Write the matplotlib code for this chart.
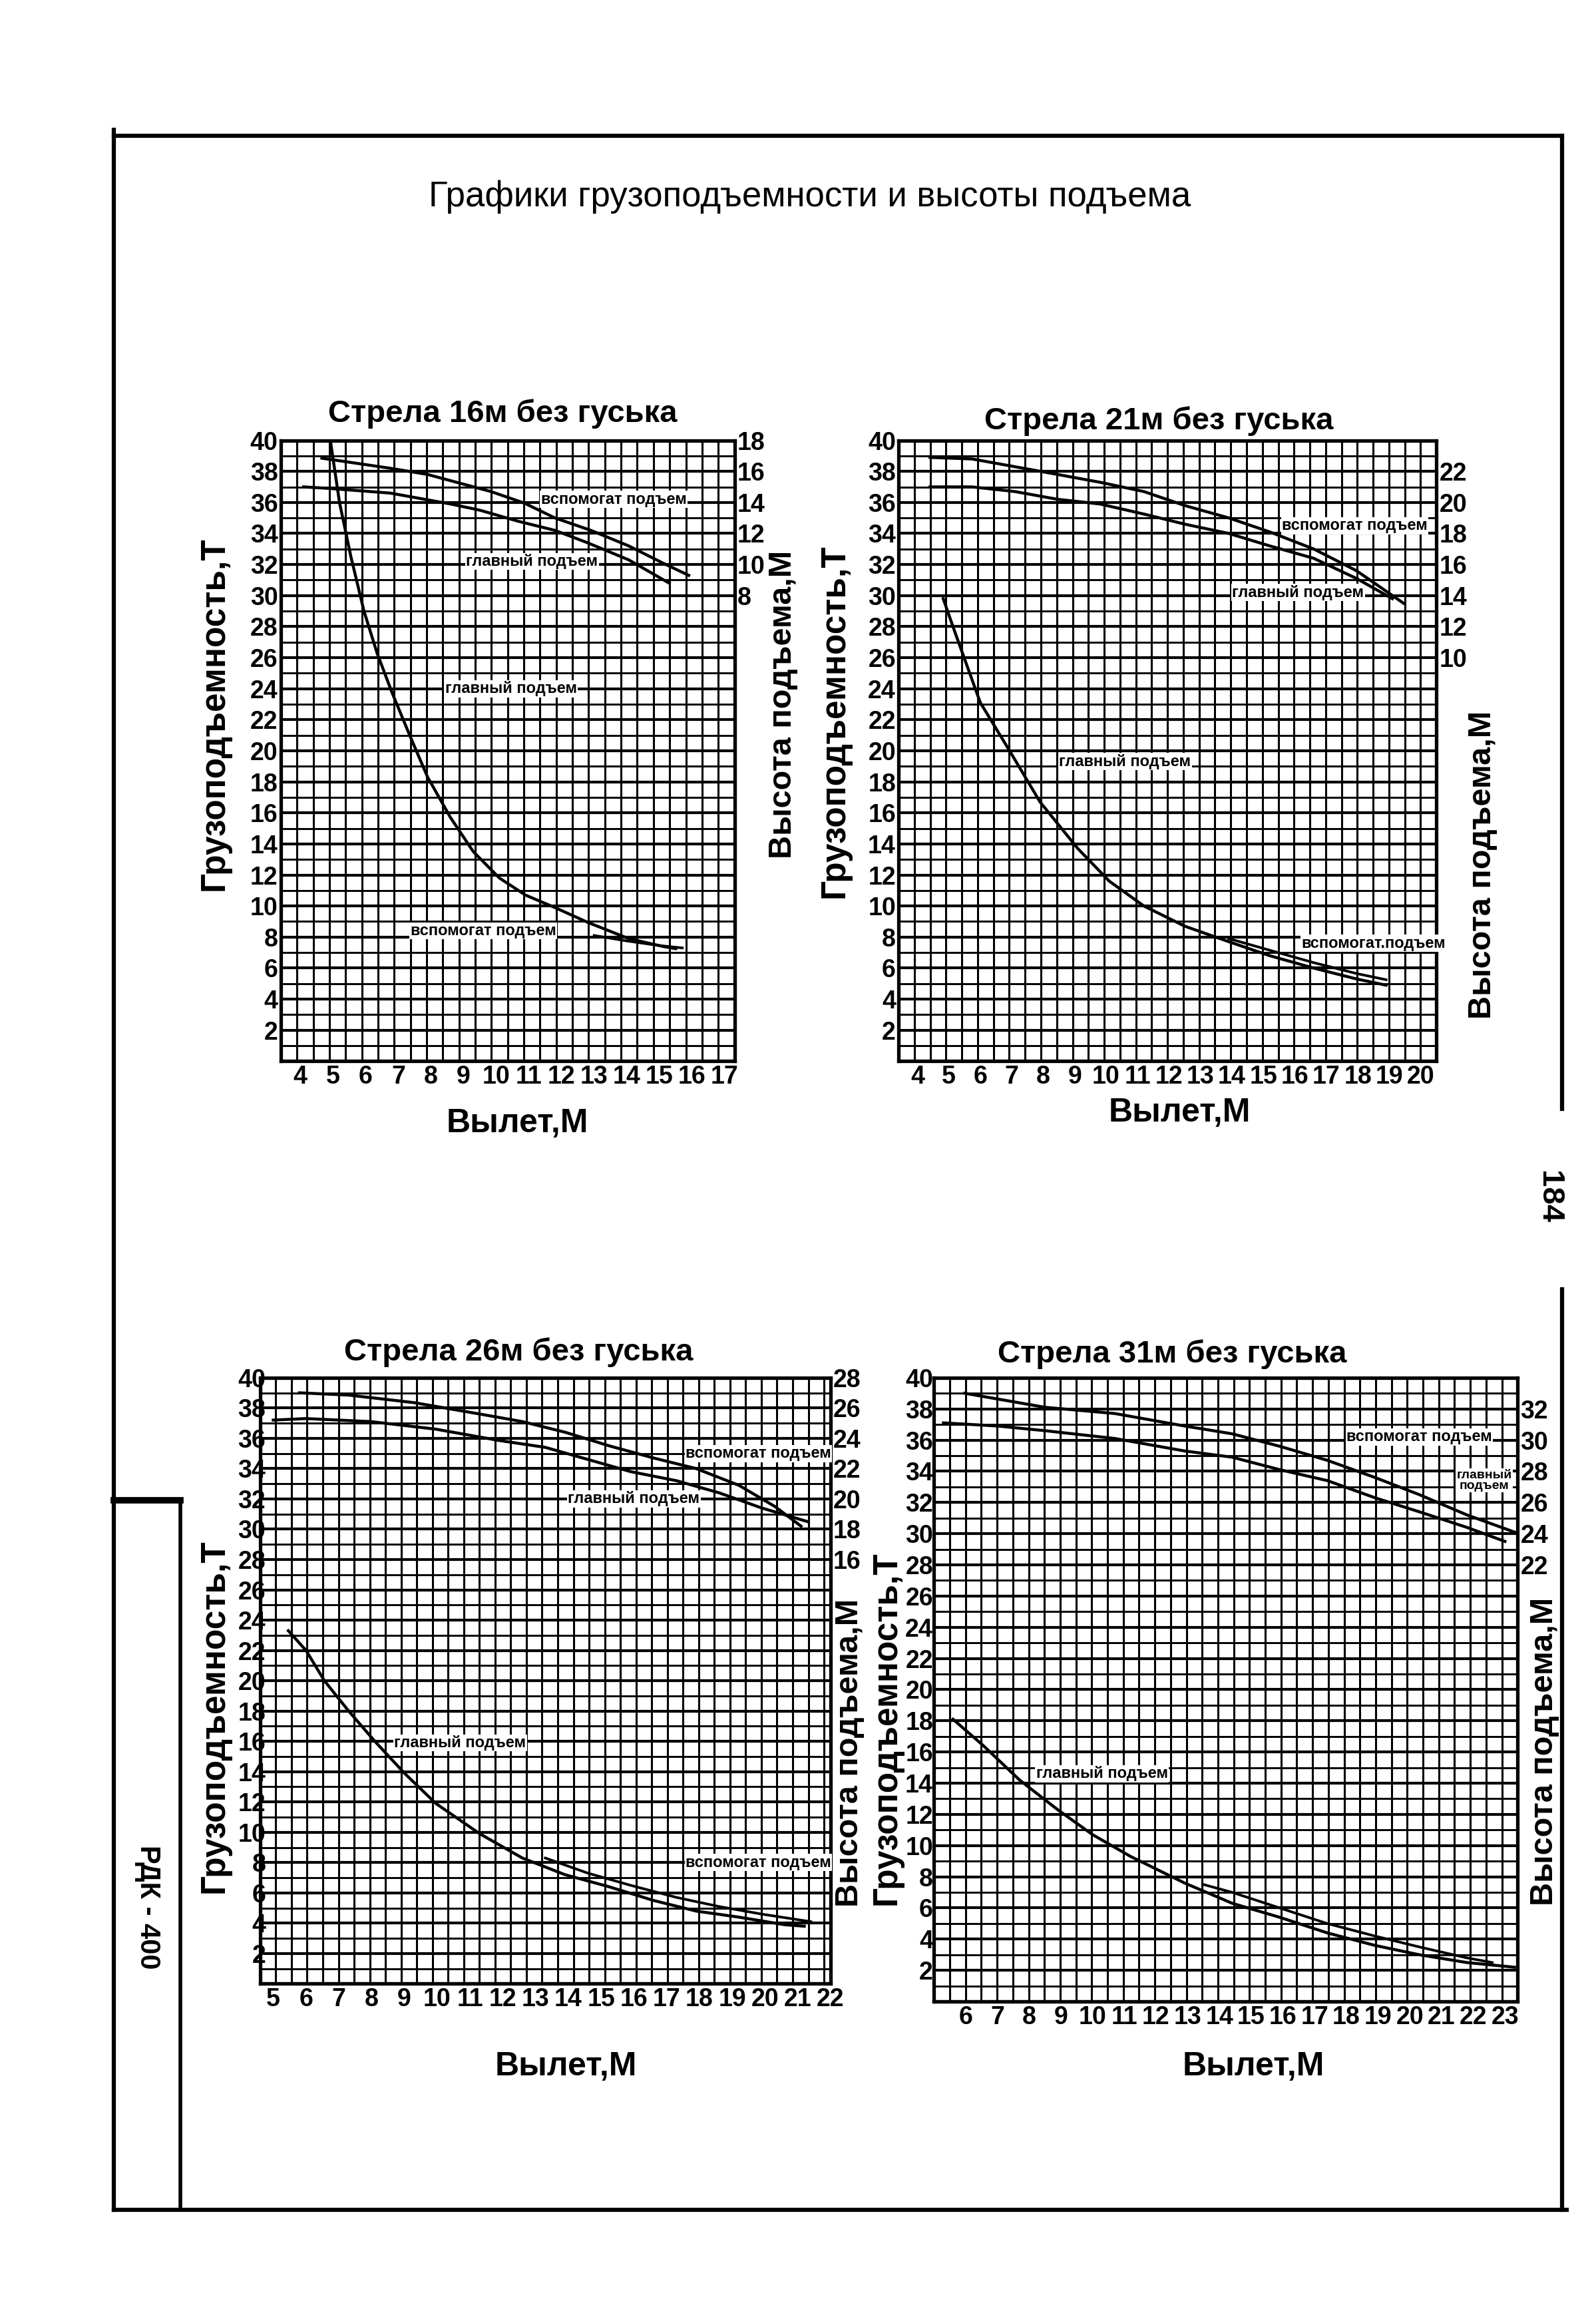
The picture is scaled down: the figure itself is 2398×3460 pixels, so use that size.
import numpy as np
import matplotlib
matplotlib.use('Agg')
import matplotlib.pyplot as plt
from matplotlib.lines import Line2D

plt.rcParams['font.family'] = ['Liberation Sans', 'DejaVu Sans']

# values (reach in m, load in t, height in m)
cap_ticks = list(range(2, 41, 2))

# boom 16 m
b16_reach_ticks = list(range(4, 18))
b16_height_ticks = list(range(8, 19, 2))
b16_aux_h_x = [4.66, 6.76, 7.9, 9.84, 10.87, 11.8, 12.9, 14.06, 15.1, 15.9]
b16_aux_h = [16.85, 16.2, 15.8, 14.7, 13.95, 13.0, 12.2, 11.2, 10.1, 9.3]
b16_main_h_x = [4.1, 4.9, 6.76, 8.6, 9.5, 10.65, 11.8, 12.8, 14.06, 15.3]
b16_main_h = [15.0, 14.9, 14.6, 13.9, 13.5, 12.8, 12.2, 11.4, 10.3, 8.8]
b16_main_cap_x = [4.92, 5.2, 5.55, 5.95, 6.35, 6.8, 7.35, 7.9, 8.6, 9.3, 10.1,
                  10.9, 11.8, 12.8, 14.06, 15.1, 15.5]
b16_main_cap = [40.0, 36.0, 32.5, 29.0, 26.3, 23.8, 21.0, 18.3, 15.7, 13.5, 11.8,
                10.7, 9.9, 8.95, 7.9, 7.4, 7.25]
b16_aux_cap_x = [13.0, 14.0, 15.0, 15.7]
b16_aux_cap = [8.1, 7.75, 7.45, 7.3]

# boom 21 m
b21_reach_ticks = list(range(4, 21))
b21_height_ticks = list(range(10, 23, 2))
b21_aux_h_x = [4.4, 5.74, 7.1, 8.46, 9.8, 11.2, 12.5, 13.9, 15.2, 16.6, 17.96, 19.46]
b21_aux_h = [22.9, 22.8, 22.3, 21.8, 21.3, 20.7, 19.8, 19.0, 18.1, 17.0, 15.6, 13.5]
b21_main_h_x = [4.4, 5.74, 7.1, 8.46, 9.8, 11.2, 12.5, 13.9, 15.2, 16.6, 17.96, 19.1]
b21_main_h = [21.0, 21.0, 20.7, 20.2, 19.9, 19.25, 18.6, 18.0, 17.2, 16.4, 15.1, 13.8]
b21_main_cap_x = [4.82, 5.2, 6.0, 6.96, 7.9, 9.1, 10.1, 11.2, 12.5, 13.9, 15.2,
                  16.6, 17.96, 18.9]
b21_main_cap = [29.8, 27.6, 23.1, 19.9, 16.7, 13.7, 11.6, 10.0, 8.7, 7.7, 6.8,
                6.0, 5.3, 4.9]
b21_aux_cap_x = [13.9, 15.2, 16.6, 17.96, 18.9]
b21_aux_cap = [7.9, 7.15, 6.35, 5.65, 5.25]

# boom 26 m
b26_reach_ticks = list(range(5, 23))
b26_height_ticks = list(range(16, 29, 2))
b26_aux_h_x = [5.8, 7.3, 9.3, 11.3, 12.6, 13.9, 15.25, 16.6, 17.9, 19.2, 20.3, 21.1]
b26_aux_h = [27.0, 26.85, 26.35, 25.6, 25.1, 24.4, 23.5, 22.7, 22.0, 20.9, 19.5, 18.2]
b26_main_h_x = [5.0, 6.0, 7.98, 9.96, 11.9, 13.3, 14.6, 15.9, 17.3, 18.6, 19.9, 21.3]
b26_main_h = [25.2, 25.3, 25.1, 24.6, 23.85, 23.4, 22.6, 21.8, 21.2, 20.4, 19.4, 18.5]
b26_main_cap_x = [5.46, 6.0, 6.56, 7.3, 8.1, 9.0, 9.96, 11.3, 12.6, 13.9, 15.25,
                  16.6, 17.9, 19.2, 20.6, 21.2]
b26_main_cap = [23.3, 22.0, 20.0, 18.0, 16.0, 13.9, 11.9, 9.9, 8.3, 7.2, 6.4,
                5.5, 4.8, 4.4, 3.9, 3.8]
b26_aux_cap_x = [13.3, 14.6, 15.9, 17.3, 18.6, 19.9, 21.4]
b26_aux_cap = [8.3, 7.3, 6.5, 5.7, 5.1, 4.6, 4.1]

# boom 31 m
b31_reach_ticks = list(range(6, 24))
b31_height_ticks = list(range(22, 33, 2))
b31_aux_h_x = [5.97, 8.5, 10.7, 12.9, 14.4, 15.9, 17.4, 18.9, 20.3, 21.8, 23.3]
b31_aux_h = [33.0, 32.1, 31.7, 30.9, 30.4, 29.6, 28.7, 27.6, 26.5, 25.2, 24.1]
b31_main_h_x = [5.3, 7.0, 8.5, 10.7, 12.9, 14.4, 15.9, 17.4, 18.9, 20.3, 21.8, 23.0]
b31_main_h = [31.1, 30.9, 30.6, 30.1, 29.3, 28.9, 28.1, 27.4, 26.3, 25.4, 24.4, 23.5]
b31_main_cap_x = [5.6, 6.56, 7.7, 8.9, 10.0, 11.2, 12.9, 14.4, 15.9, 17.4, 18.9,
                  20.3, 21.8, 23.3]
b31_main_cap = [18.1, 16.4, 14.2, 12.3, 10.7, 9.3, 7.6, 6.3, 5.4, 4.4, 3.6,
                3.0, 2.5, 2.2]
b31_aux_cap_x = [13.5, 14.4, 15.9, 17.4, 18.9, 20.3, 21.8, 22.6]
b31_aux_cap = [7.5, 7.0, 6.0, 5.0, 4.2, 3.5, 2.8, 2.5]

AUX = 'вспомогат подъем'
MAIN = 'главный подъем'

panels = [
    dict(title='Стрела 16м без гуська', rect=[0.1759, 0.5392, 0.2843, 0.2696],
         xlim=(3.4, 17.3), ncells=28, off=22,
         reach=b16_reach_ticks, hticks=b16_height_ticks,
         aux_h=(b16_aux_h_x, b16_aux_h), main_h=(b16_main_h_x, b16_main_h),
         main_cap=(b16_main_cap_x, b16_main_cap), aux_cap=(b16_aux_cap_x, b16_aux_cap),
         notes=[(AUX, 13.6, 36.2, 17), (MAIN, 11.1, 32.2, 17),
                (MAIN, 10.45, 24.0, 17), (AUX, 9.6, 8.4, 17)],
         title_xy=(0.3148, 0.8203), xl_xy=(0.3241, 0.5122),
         yl_xy=(0.1343, 0.690), yr_xy=(0.4907, 0.694), lpad=3),
    dict(title='Стрела 21м без гуська', rect=[0.5630, 0.5392, 0.3370, 0.2696],
         xlim=(3.4, 20.5), ncells=34, off=16,
         reach=b21_reach_ticks, hticks=b21_height_ticks,
         aux_h=(b21_aux_h_x, b21_aux_h), main_h=(b21_main_h_x, b21_main_h),
         main_cap=(b21_main_cap_x, b21_main_cap), aux_cap=(b21_aux_cap_x, b21_aux_cap),
         notes=[(AUX, 17.9, 34.5, 17), (MAIN, 16.1, 30.2, 17), (MAIN, 10.6, 19.3, 17),
                ('вспомогат.подъем', 18.5, 7.6, 17)],
         title_xy=(0.7259, 0.8171), xl_xy=(0.7389, 0.5167),
         yl_xy=(0.5231, 0.6868), yr_xy=(0.9287, 0.6245), lpad=3),
    dict(title='Стрела 26м без гуська', rect=[0.1630, 0.1386, 0.3574, 0.2632],
         xlim=(4.6, 21.8), ncells=36, off=12,
         reach=b26_reach_ticks, hticks=b26_height_ticks,
         aux_h=(b26_aux_h_x, b26_aux_h), main_h=(b26_main_h_x, b26_main_h),
         main_cap=(b26_main_cap_x, b26_main_cap), aux_cap=(b26_aux_cap_x, b26_aux_cap),
         notes=[(AUX, 19.8, 35.0, 17), (MAIN, 16.0, 32.0, 17),
                (MAIN, 10.7, 15.9, 17), (AUX, 19.8, 8.0, 17)],
         title_xy=(0.3250, 0.4127), xl_xy=(0.3546, 0.1027),
         yl_xy=(0.1343, 0.2548), yr_xy=(0.5324, 0.2388), lpad=-6),
    dict(title='Стрела 31м без гуська', rect=[0.5852, 0.1309, 0.3657, 0.2709],
         xlim=(5.0, 23.4), ncells=37, off=6,
         reach=b31_reach_ticks, hticks=b31_height_ticks,
         aux_h=(b31_aux_h_x, b31_aux_h), main_h=(b31_main_h_x, b31_main_h),
         main_cap=(b31_main_cap_x, b31_main_cap), aux_cap=(b31_aux_cap_x, b31_aux_cap),
         notes=[(AUX, 20.3, 36.2, 17), ('главный\nподъем', 22.35, 33.4, 14),
                (MAIN, 10.3, 14.6, 17)],
         title_xy=(0.7343, 0.4120), xl_xy=(0.7852, 0.1027),
         yl_xy=(0.5556, 0.2497), yr_xy=(0.9676, 0.2394), lpad=1),
]

fig = plt.figure(figsize=(23.98, 34.6), dpi=100)

NOTE_FONT = ['Liberation Sans Narrow', 'Liberation Sans', 'DejaVu Sans']


def draw_panel(p):
    ax = fig.add_axes(p['rect'])
    x0, x1 = p['xlim']
    ax.set_xlim(x0, x1)
    ax.set_ylim(0, 40)

    # the squared paper of the sheet
    for xv in np.linspace(x0, x1, p['ncells'] + 1):
        ax.axvline(xv, color='black', lw=2.2, zorder=1)
    for yv in range(0, 41):
        ax.axhline(yv, color='black', lw=3.0 if yv % 2 == 0 else 2.1, zorder=1)

    ax.set_xticks(p['reach'])
    ax.set_xticklabels([str(v) for v in p['reach']])
    ax.set_yticks(cap_ticks)
    ax.set_yticklabels([str(v) for v in cap_ticks])
    ax.tick_params(axis='both', length=0, labelsize=27)
    ax.tick_params(axis='x', pad=4)
    ax.tick_params(axis='y', pad=p['lpad'])
    for lab in ax.get_xticklabels() + ax.get_yticklabels():
        lab.set_fontweight('bold')
    for s in ax.spines.values():
        s.set_linewidth(3.8)

    # load curves
    ax.plot(*p['main_cap'], color='black', lw=3.2, zorder=3)
    ax.plot(*p['aux_cap'], color='black', lw=2.8, zorder=3)

    for txt, tx, ty, fs in p['notes']:
        ax.text(tx, ty, txt, ha='center', va='center', fontsize=fs,
                family=NOTE_FONT, fontweight='bold', linespacing=0.95, zorder=4,
                bbox=dict(facecolor='white', edgecolor='none', pad=1.0))

    # hook heights on the right scale
    ax2 = ax.twinx()
    ax2.set_ylim(-p['off'], 40 - p['off'])
    ax2.set_yticks(p['hticks'])
    ax2.set_yticklabels([str(v) for v in p['hticks']])
    ax2.tick_params(axis='y', length=0, labelsize=27, pad=3)
    for lab in ax2.get_yticklabels():
        lab.set_fontweight('bold')
    for s in ax2.spines.values():
        s.set_visible(False)
    ax2.plot(*p['aux_h'], color='black', lw=3.2, zorder=3)
    ax2.plot(*p['main_h'], color='black', lw=3.2, zorder=3)

    fig.text(*p['title_xy'], p['title'], ha='center', va='center',
             fontsize=34, fontweight='bold')
    fig.text(*p['xl_xy'], 'Вылет,М', ha='center', va='center',
             fontsize=36, fontweight='bold')
    fig.text(*p['yl_xy'], 'Грузоподъемность,Т', ha='center', va='center',
             rotation=90, fontsize=37, fontweight='bold')
    fig.text(*p['yr_xy'], 'Высота подъема,М', ha='center', va='center',
             rotation=90, fontsize=35, fontweight='bold')


for p in panels:
    draw_panel(p)

# sheet frame
L, R, T, B = 0.0713, 0.9787, 0.9410, 0.0404
frame = [
    ([L, L], [B, 0.9435], 4.5),
    ([L, R], [T, T], 4.5),
    ([R, R], [T, 0.5186], 4.5),
    ([R, R], [0.4403, B], 4.5),
    ([L, R + 0.003], [B, B], 4.5),
    ([0.1130, 0.1130], [B, 0.3485], 4.0),
    ([L, 0.1130], [0.3485, 0.3485], 7.0),
]
for xs, ys, w in frame:
    fig.add_artist(Line2D(xs, ys, transform=fig.transFigure, color='black', lw=w))

fig.text(0.5074, 0.9146, 'Графики грузоподъемности и высоты подъема',
         ha='center', va='center', fontsize=38)
fig.text(0.9704, 0.4801, '184', ha='center', va='center', rotation=-90,
         fontsize=34, fontweight='bold')
fig.text(0.0926, 0.1720, 'РДК - 400', ha='center', va='center', rotation=-90,
         fontsize=30, fontweight='bold')

fig.savefig('out.png', dpi=100, facecolor='white')
